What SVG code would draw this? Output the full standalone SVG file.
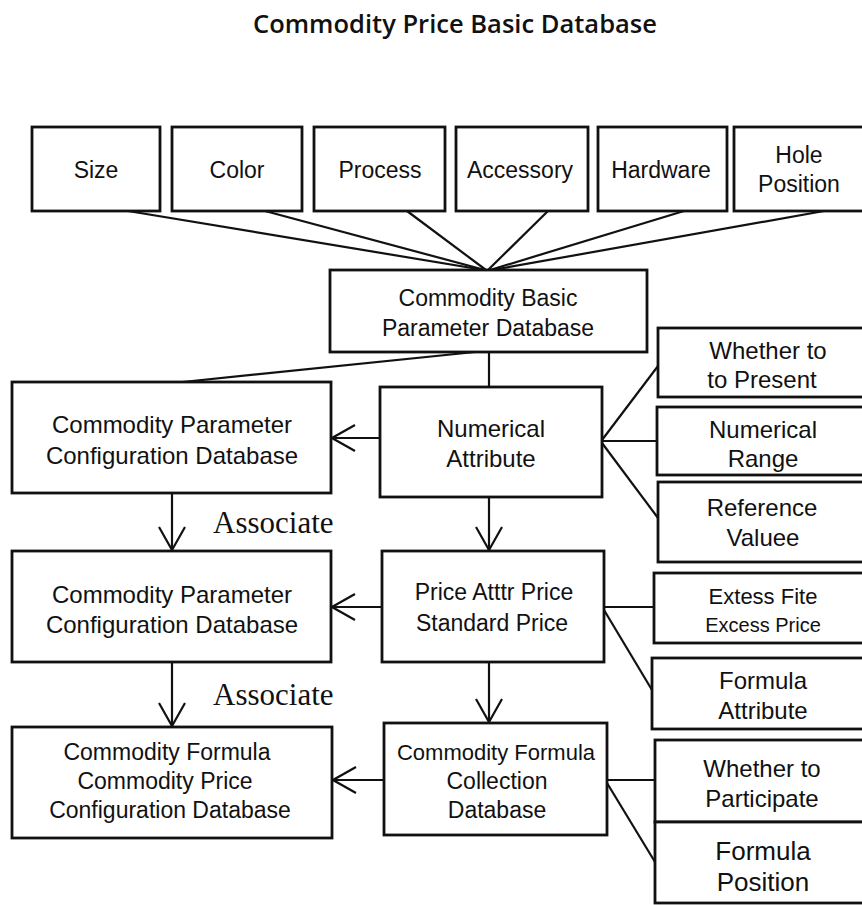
<svg xmlns="http://www.w3.org/2000/svg" width="862" height="905" viewBox="0 0 862 905">
<defs>
<marker id="arr" viewBox="0 0 26 30" refX="24" refY="15" markerWidth="26" markerHeight="30" markerUnits="userSpaceOnUse" orient="auto">
<path d="M1,2 L24,15 L1,28" fill="none" stroke="#111" stroke-width="2.2"/>
</marker>
<style>
.box{fill:#fff;stroke:#111;stroke-width:2.8}
.t{font-family:"Liberation Sans",Arial,sans-serif;font-size:23px;fill:#111;text-anchor:middle}
.c line{stroke:#111;stroke-width:2.2}
.a{marker-end:url(#arr)}
.assoc{font-family:"Liberation Serif","Times New Roman",serif;font-size:31px;fill:#111}
.title{font-family:"Open Sans","Liberation Sans",sans-serif;font-weight:600;font-size:25px;fill:#111;text-anchor:middle}
</style>
</defs>
<rect width="862" height="905" fill="#fff"/>
<text class="title" x="455" y="33" textLength="404" lengthAdjust="spacingAndGlyphs">Commodity Price Basic Database</text>

<g id="connectors" class="c">
<line x1="128" y1="211" x2="484" y2="270"/>
<line x1="265" y1="211" x2="485" y2="270"/>
<line x1="407" y1="211" x2="486" y2="270"/>
<line x1="548" y1="211" x2="488" y2="270"/>
<line x1="684" y1="211" x2="490" y2="270"/>
<line x1="824" y1="211" x2="492" y2="270"/>
<line x1="475" y1="352" x2="173" y2="383"/>
<line x1="489" y1="352" x2="489" y2="387"/>
<line class="a" x1="380" y1="438" x2="332" y2="438"/>
<line x1="602" y1="440" x2="658" y2="366"/>
<line x1="602" y1="441" x2="657" y2="441"/>
<line x1="602" y1="443" x2="658" y2="518"/>
<line class="a" x1="489" y1="497" x2="489" y2="550"/>
<line class="a" x1="172" y1="493" x2="172" y2="550"/>
<line class="a" x1="382" y1="607" x2="332" y2="607"/>
<line x1="604" y1="607" x2="654" y2="607"/>
<line x1="604" y1="610" x2="652" y2="690"/>
<line class="a" x1="172" y1="662" x2="172" y2="726"/>
<line class="a" x1="489" y1="662" x2="489" y2="722"/>
<line class="a" x1="384" y1="780" x2="333" y2="780"/>
<line x1="607" y1="780" x2="655" y2="780"/>
<line x1="607" y1="783" x2="655" y2="862"/>
</g>

<g id="size"><rect class="box" x="32" y="127" width="128" height="84"/><text class="t" x="96" y="178">Size</text></g>
<g id="color"><rect class="box" x="172" y="127" width="130" height="84"/><text class="t" x="237" y="178">Color</text></g>
<g id="process"><rect class="box" x="314" y="127" width="131" height="84"/><text class="t" x="380" y="178">Process</text></g>
<g id="accessory"><rect class="box" x="456" y="127" width="132" height="84"/><text class="t" x="520" y="178">Accessory</text></g>
<g id="hardware"><rect class="box" x="598" y="127" width="129" height="84"/><text class="t" x="661" y="178">Hardware</text></g>
<g id="hole-position"><rect class="box" x="734" y="127" width="132" height="84"/><text class="t" x="799" y="163">Hole</text><text class="t" x="799" y="192">Position</text></g>

<g id="basic-param-db"><rect class="box" x="330" y="270" width="317" height="82"/><text class="t" x="488" y="306">Commodity Basic</text><text class="t" x="488" y="336">Parameter Database</text></g>

<g id="param-config-1"><rect class="box" x="12" y="382" width="319" height="111"/><text class="t" x="172" y="433" style="font-size:24px">Commodity Parameter</text><text class="t" x="172" y="464" style="font-size:24px">Configuration Database</text></g>
<g id="numerical-attr"><rect class="box" x="380" y="387" width="222" height="110"/><text class="t" x="491" y="437" style="font-size:24px">Numerical</text><text class="t" x="491" y="467" style="font-size:24px">Attribute</text></g>
<g id="whether-present"><rect class="box" x="658" y="328" width="208" height="69"/><text class="t" x="768" y="359" style="font-size:24px">Whether to</text><text class="t" x="762" y="388" style="font-size:24px">to Present</text></g>
<g id="numerical-range"><rect class="box" x="657" y="407" width="209" height="68"/><text class="t" x="763" y="438" style="font-size:24px">Numerical</text><text class="t" x="763" y="467" style="font-size:24px">Range</text></g>
<g id="reference-value"><rect class="box" x="658" y="482" width="208" height="80"/><text class="t" x="762" y="516" style="font-size:24px">Reference</text><text class="t" x="763" y="546" style="font-size:24px">Valuee</text></g>

<text class="assoc" x="213" y="533">Associate</text>

<g id="param-config-2"><rect class="box" x="12" y="551" width="319" height="111"/><text class="t" x="172" y="603" style="font-size:24px">Commodity Parameter</text><text class="t" x="172" y="633" style="font-size:24px">Configuration Database</text></g>
<g id="price-attr"><rect class="box" x="382" y="551" width="222" height="111"/><text class="t" x="494" y="600">Price Atttr Price</text><text class="t" x="492" y="631">Standard Price</text></g>
<g id="excess-price"><rect class="box" x="654" y="573" width="212" height="70"/><text class="t" x="763" y="604" style="font-size:22px">Extess Fite</text><text class="t" x="763" y="632" style="font-size:20px">Excess Price</text></g>
<g id="formula-attr"><rect class="box" x="652" y="658" width="214" height="71"/><text class="t" x="763" y="689" style="font-size:24px">Formula</text><text class="t" x="763" y="719" style="font-size:24px">Attribute</text></g>

<text class="assoc" x="213" y="705">Associate</text>

<g id="formula-price-config"><rect class="box" x="12" y="727" width="320" height="111"/><text class="t" x="167" y="760">Commodity Formula</text><text class="t" x="165" y="789">Commodity Price</text><text class="t" x="170" y="818">Configuration Database</text></g>
<g id="formula-collection"><rect class="box" x="384" y="723" width="223" height="112"/><text class="t" x="496" y="760" style="font-size:22px">Commodity Formula</text><text class="t" x="497" y="789">Collection</text><text class="t" x="497" y="818">Database</text></g>
<g id="whether-participate"><rect class="box" x="655" y="740" width="211" height="82"/><text class="t" x="762" y="777" style="font-size:24px">Whether to</text><text class="t" x="762" y="807" style="font-size:24px">Participate</text></g>
<g id="formula-position"><rect class="box" x="655" y="822" width="211" height="81"/><text class="t" x="763" y="860" style="font-size:26px">Formula</text><text class="t" x="763" y="891" style="font-size:26px">Position</text></g>
</svg>
